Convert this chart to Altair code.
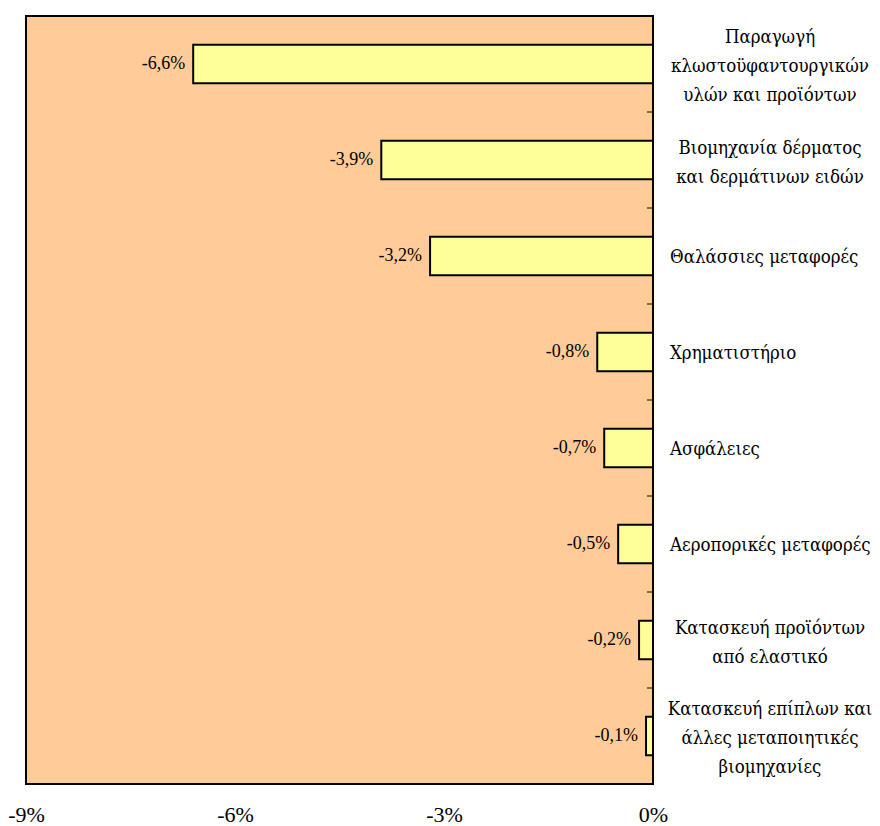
import altair as alt
import pandas as pd

categories = [
    "Παραγωγή\nκλωστοϋφαντουργικών\nυλών και προϊόντων",
    "Βιομηχανία δέρματος\nκαι δερμάτινων ειδών",
    "Θαλάσσιες μεταφορές",
    "Χρηματιστήριο",
    "Ασφάλειες",
    "Αεροπορικές μεταφορές",
    "Κατασκευή προϊόντων\nαπό ελαστικό",
    "Κατασκευή επίπλων και\nάλλες μεταποιητικές\nβιομηχανίες",
]
values = [-6.6, -3.9, -3.2, -0.8, -0.7, -0.5, -0.2, -0.1]
x_ticks = [-9, -6, -3, 0]

FONT = "Liberation Serif, Times New Roman, serif"
CAT_FONT = "DejaVu Serif Condensed, DejaVu Serif, serif"
CAT_SIZE = 18.5
LINE_H = 29

df = pd.DataFrame({
    "cat": categories,
    "value": values,
    "label": [f"{v:.1f}%".replace(".", ",") for v in values],
    "nlines": [c.count("\n") + 1 for c in categories],
})
tick_df = pd.DataFrame({"cat": categories[1:]})

x_scale = alt.Scale(domain=[-9, 0], nice=False, zero=False)
y_scale = alt.Scale(paddingInner=0, paddingOuter=0)
x_axis = alt.Axis(values=x_ticks, labelExpr="datum.value + '%'", domain=False, ticks=False,
                  grid=False, title=None, labelFont=FONT, labelFontSize=22, labelColor="black",
                  labelPadding=20, labelFlush=False)

y_enc = alt.Y("cat:N", sort=categories, scale=y_scale, axis=None)

bars = alt.Chart(df).mark_bar(height={"band": 0.4}, color="#FFFF99", stroke="black",
                              strokeWidth=2).encode(
    x=alt.X("value:Q", scale=x_scale, axis=x_axis),
    x2=alt.datum(0),
    y=y_enc,
)

vals = alt.Chart(df).mark_text(align="right", baseline="middle", dx=-8, font=FONT,
                               fontSize=18, color="black").encode(
    x=alt.X("value:Q"), y=y_enc, text="label:N")

single = alt.Chart(df).transform_filter("datum.nlines == 1").mark_text(
    align="left", baseline="middle", dx=17, dy=1, font=CAT_FONT, fontSize=CAT_SIZE,
    color="black").encode(
    x=alt.datum(0), y=y_enc, text="cat:N")

layers = [bars, vals, single]
for n in (2, 3):
    layers.append(
        alt.Chart(df).transform_filter(f"datum.nlines == {n}").mark_text(
            align="center", baseline="middle", dx=117, dy=-(n - 1) * LINE_H / 2 + 2,
            font=CAT_FONT, fontSize=CAT_SIZE, color="black", lineBreak="\n",
            lineHeight=LINE_H).encode(
            x=alt.datum(0), y=y_enc, text="cat:N")
    )

ticks = alt.Chart(tick_df).mark_rule(color="black", strokeWidth=1).encode(
    y=alt.Y("cat:N", sort=categories, bandPosition=0),
    x=alt.datum(-0.085), x2=alt.datum(0))
layers.append(ticks)

chart = alt.layer(*layers).properties(
    width=627, height=768,
    padding={"left": 18, "top": 8, "right": 219, "bottom": 42},
    autosize=alt.AutoSizeParams(type="none"),
    background="white",
).configure_view(fill="#FFCC99", stroke="black", strokeWidth=2)

chart.save("out.html", embed_options={"renderer": "svg", "actions": False})
